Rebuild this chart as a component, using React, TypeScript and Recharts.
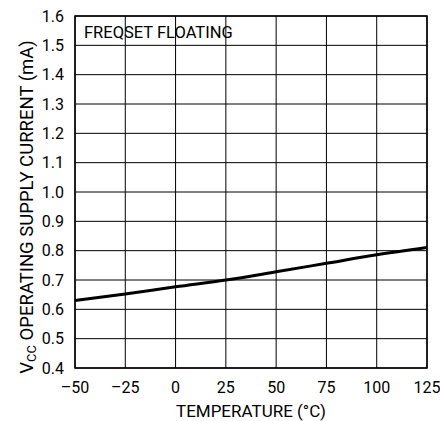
import { LineChart, Line, XAxis, YAxis, CartesianGrid, ReferenceArea, ReferenceLine } from "recharts";

const temperatures = [-50, -25, 0, 25, 50, 75, 100, 125];
const supplyCurrent = [0.63, 0.652, 0.677, 0.7, 0.728, 0.757, 0.786, 0.811];
const xTicks = [-50, -25, 0, 25, 50, 75, 100, 125];
const yTicks = [0.4, 0.5, 0.6, 0.7, 0.8, 0.9, 1.0, 1.1, 1.2, 1.3, 1.4, 1.5, 1.6];

const data = temperatures.map((t, i) => ({ temp: t, icc: supplyCurrent[i] }));

const FONT = "Roboto, 'Liberation Sans', sans-serif";

const YTitle = () => {
  const cy = 207;
  const x = 33;
  return (
    <text
      x={x}
      y={cy}
      transform={`rotate(-90, ${x}, ${cy})`}
      textAnchor="middle"
      fontFamily={FONT}
      fontSize={18.5}
      fill="#000"
    >
      V<tspan fontSize={13} dy={3}>CC</tspan>
      <tspan dy={-3}> OPERATING SUPPLY CURRENT (mA)</tspan>
    </text>
  );
};

const XTitle = () => (
  <text x={251} y={417} textAnchor="middle" fontFamily={FONT} fontSize={17} fill="#000">
    TEMPERATURE (°C)
  </text>
);

const NoteLabel = ({ viewBox }: any) => (
  <text x={viewBox.x + 9} y={viewBox.y + 22} fontFamily={FONT} fontSize={16.5} fill="#000">
    FREQSET FLOATING
  </text>
);

export default function App() {
  return (
    <div style={{ position: "absolute", left: 0, top: 0, background: "#fff" }}>
      <LineChart
        width={440}
        height={421}
        data={data}
        margin={{ top: 16, right: 13, bottom: 0, left: 0 }}
      >
        <CartesianGrid stroke="#000" strokeWidth={1} />
        <XAxis
          dataKey="temp"
          type="number"
          domain={[-50, 125]}
          ticks={xTicks}
          tickFormatter={(v: number) => (v < 0 ? `\u2013${Math.abs(v)}` : `${v}`)}
          tickLine={false}
          axisLine={false}
          tickMargin={8}
          height={53}
          tick={{ fill: "#000", fontSize: 16, fontFamily: FONT }}
          label={<XTitle />}
        />
        <YAxis
          type="number"
          domain={[0.4, 1.6]}
          ticks={yTicks}
          tickFormatter={(v: number) => v.toFixed(1)}
          tickLine={false}
          axisLine={false}
          width={75}
          tickMargin={5}
          tick={{ fill: "#000", fontSize: 16, fontFamily: FONT }}
          label={<YTitle />}
        />
        <ReferenceArea
          x1={-50}
          x2={125}
          y1={0.4}
          y2={1.6}
          fill="none"
          stroke="#000"
          strokeWidth={1.5}
          ifOverflow="visible"
        />
        <ReferenceLine y={1.6} stroke="none" label={<NoteLabel />} />
        <Line
          type="monotone"
          dataKey="icc"
          stroke="#000"
          strokeWidth={3}
          dot={false}
          isAnimationActive={false}
        />
      </LineChart>
    </div>
  );
}
